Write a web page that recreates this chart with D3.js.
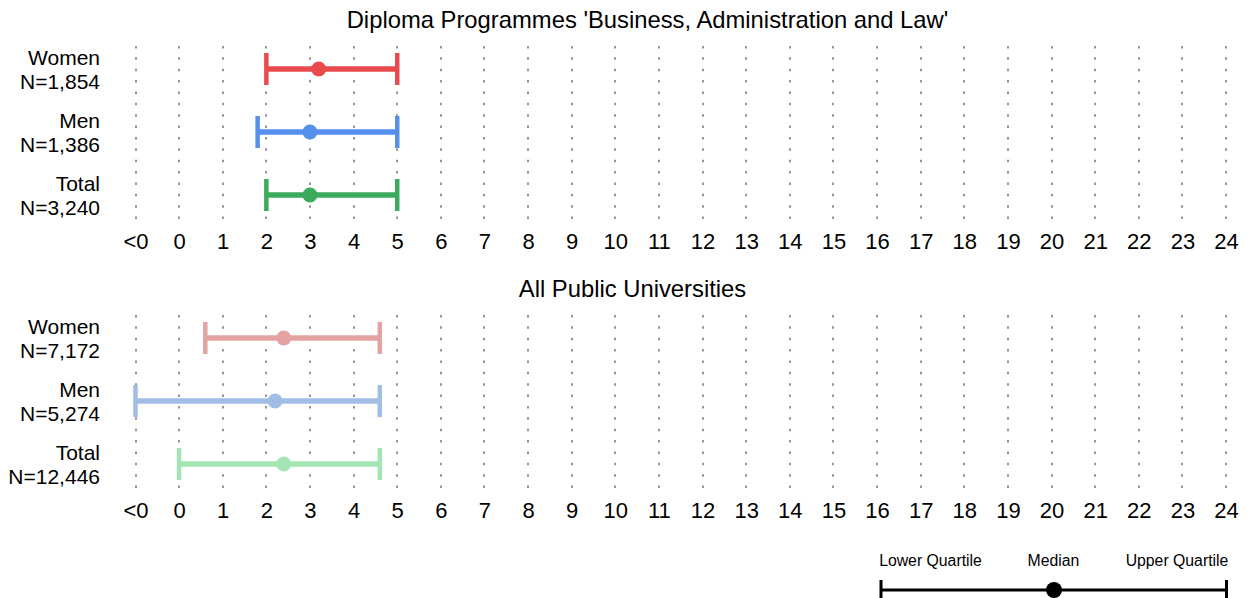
<!DOCTYPE html>
<html>
<head>
<meta charset="utf-8">
<script src="https://cdn.jsdelivr.net/npm/d3@7"></script>
<style>
  html, body { margin: 0; padding: 0; background: #fff; }
  svg { display: block; font-family: "Liberation Sans", Arial, Helvetica, sans-serif; }
</style>
</head>
<body>
<svg id="chart" width="1250" height="598"></svg>
<script>
// ---- data ----
const tickValues = [-1, 0, 1, 2, 3, 4, 5, 6, 7, 8, 9, 10, 11, 12, 13, 14, 15, 16, 17, 18, 19, 20, 21, 22, 23, 24];
const tickLabels = ["<0", "0", "1", "2", "3", "4", "5", "6", "7", "8", "9", "10", "11", "12", "13", "14", "15", "16", "17", "18", "19", "20", "21", "22", "23", "24"];
const groups = ["Women", "Men", "Total"];

const panel1Title = "Diploma Programmes 'Business, Administration and Law'";
const panel1N = ["N=1,854", "N=1,386", "N=3,240"];
const panel1Lower = [2, 1.8, 2];
const panel1Median = [3.2, 3, 3];
const panel1Upper = [5, 5, 5];
const panel1Colors = ["#e84a4d", "#5490ec", "#3baa5d"];

const panel2Title = "All Public Universities";
const panel2N = ["N=7,172", "N=5,274", "N=12,446"];
const panel2Lower = [0.6, -1, 0];
const panel2Median = [2.4, 2.2, 2.4];
const panel2Upper = [4.6, 4.6, 4.6];
const panel2Colors = ["#e4a3a3", "#a0bde5", "#a3e5b5"];

const legendLabels = ["Lower Quartile", "Median", "Upper Quartile"];

// ---- layout ----
const svg = d3.select("#chart");
const x = d3.scaleLinear().domain([-1, 24]).range([135.5, 1226]);

const panels = [
  { title: panel1Title, n: panel1N, lo: panel1Lower, med: panel1Median, hi: panel1Upper, colors: panel1Colors, top: 0, tx: 647.5 },
  { title: panel2Title, n: panel2N, lo: panel2Lower, med: panel2Median, hi: panel2Upper, colors: panel2Colors, top: 269, tx: 632.5 }
];

const y = d3.scaleBand().domain(groups).range([37.5, 226.5]).paddingInner(0).paddingOuter(0);

panels.forEach(p => {
  const g = svg.append("g").attr("transform", `translate(0,${p.top})`);

  // title
  g.append("text")
    .attr("x", p.tx).attr("y", 27.5)
    .attr("text-anchor", "middle")
    .attr("font-size", 23.8)
    .attr("fill", "#000")
    .text(p.title);

  // dotted grid
  g.append("g").selectAll("line").data(tickValues).join("line")
    .attr("x1", d => Math.round(x(d))).attr("x2", d => Math.round(x(d)))
    .attr("y1", 46).attr("y2", 219)
    .attr("stroke", "#959595")
    .attr("stroke-width", 2)
    .attr("stroke-dasharray", "2.5 8.87");

  // x axis labels
  const axis = d3.axisBottom(x).tickValues(tickValues)
    .tickFormat((d, i) => tickLabels[i]).tickSize(0).tickPadding(0);
  const ax = g.append("g").attr("transform", "translate(0,233)").call(axis);
  ax.select(".domain").remove();
  ax.selectAll("text").attr("font-size", 22).attr("fill", "#000")
    .attr("font-family", "Liberation Sans, Arial, sans-serif");

  // row labels
  groups.forEach((grp, i) => {
    const cy = y(grp) + y.bandwidth() / 2;
    const t = g.append("text").attr("text-anchor", "end").attr("font-size", 21).attr("fill", "#000");
    t.append("tspan").attr("x", 100).attr("y", cy - 4).text(grp);
    t.append("tspan").attr("x", 100).attr("y", cy + 20).text(p.n[i]);
  });

  // error bars
  const rows = groups.map((grp, i) => ({ grp, lo: p.lo[i], med: p.med[i], hi: p.hi[i], c: p.colors[i] }));
  const eb = g.append("g").selectAll("g").data(rows).join("g")
    .attr("transform", d => `translate(0,${y(d.grp) + y.bandwidth() / 2})`);
  eb.append("line")
    .attr("x1", d => x(d.lo)).attr("x2", d => x(d.hi))
    .attr("y1", 0).attr("y2", 0)
    .attr("stroke", d => d.c).attr("stroke-width", 5.5);
  eb.append("line")
    .attr("x1", d => x(d.lo)).attr("x2", d => x(d.lo))
    .attr("y1", -16).attr("y2", 16)
    .attr("stroke", d => d.c).attr("stroke-width", 4.5);
  eb.append("line")
    .attr("x1", d => x(d.hi)).attr("x2", d => x(d.hi))
    .attr("y1", -16).attr("y2", 16)
    .attr("stroke", d => d.c).attr("stroke-width", 4.5);
  eb.append("circle")
    .attr("cx", d => x(d.med)).attr("cy", 0).attr("r", 7.5)
    .attr("fill", d => d.c);
});

// ---- legend ----
const lg = svg.append("g");
const lx = d3.scaleLinear().domain([0, 2]).range([881, 1226.5]);
lg.selectAll("text").data(legendLabels).join("text")
  .attr("x", (d, i) => [930.5, 1053.5, 1177][i])
  .attr("y", 566)
  .attr("text-anchor", "middle")
  .attr("font-size", 15.8)
  .attr("fill", "#000")
  .text(d => d);
lg.append("line").attr("x1", lx(0)).attr("x2", lx(2)).attr("y1", 590).attr("y2", 590)
  .attr("stroke", "#000").attr("stroke-width", 3);
lg.append("line").attr("x1", lx(0)).attr("x2", lx(0)).attr("y1", 580).attr("y2", 600)
  .attr("stroke", "#000").attr("stroke-width", 3);
lg.append("line").attr("x1", lx(2)).attr("x2", lx(2)).attr("y1", 580).attr("y2", 600)
  .attr("stroke", "#000").attr("stroke-width", 3);
lg.append("circle").attr("cx", 1054).attr("cy", 590).attr("r", 8).attr("fill", "#000");
</script>
</body>
</html>
